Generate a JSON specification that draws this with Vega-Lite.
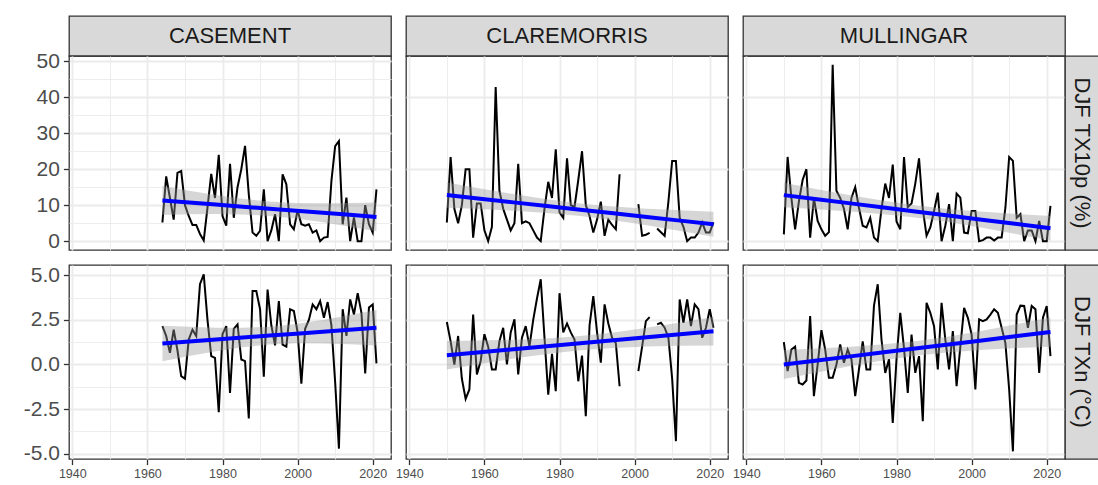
{
"$schema": "https://vega.github.io/schema/vega-lite/v6.json",
"background": "white",
"padding": {"left": 22, "top": 15, "right": 0, "bottom": 0},
"autosize": {"type": "pad"},
"bounds": "flush",
"spacing": 0,
"columns": 6,
"config": {
  "font": "Liberation Sans",
  "axis": {"labelFont": "Liberation Sans", "labelColor": "#4D4D4D", "tickColor": "#333333", "tickWidth": 1.3, "tickSize": 5.6, "gridColor": "#EBEBEB", "domain": false, "labelPadding": 4, "labelFlush": false, "labelOverlap": false, "labelBound": false, "title": null}
},
"datasets": {
"cas10": [{"year":1964,"value":5.2},{"year":1965,"value":18},{"year":1966,"value":12},{"year":1967,"value":6},{"year":1968,"value":19},{"year":1969,"value":19.5},{"year":1970,"value":10},{"year":1971,"value":7},{"year":1972,"value":4.5},{"year":1973,"value":4.5},{"year":1974,"value":2},{"year":1975,"value":0.2},{"year":1976,"value":9.3},{"year":1977,"value":18.7},{"year":1978,"value":12},{"year":1979,"value":24},{"year":1980,"value":7},{"year":1981,"value":4.3},{"year":1982,"value":21.5},{"year":1983,"value":6.5},{"year":1984,"value":15},{"year":1985,"value":20},{"year":1986,"value":26.5},{"year":1987,"value":13},{"year":1988,"value":2.4},{"year":1989,"value":1.5},{"year":1990,"value":2.9},{"year":1991,"value":14.4},{"year":1992,"value":0},{"year":1993,"value":3},{"year":1994,"value":7.5},{"year":1995,"value":0},{"year":1996,"value":18.6},{"year":1997,"value":15.8},{"year":1998,"value":4.7},{"year":1999,"value":3.3},{"year":2000,"value":8.6},{"year":2001,"value":4.7},{"year":2002,"value":4.3},{"year":2003,"value":4.7},{"year":2004,"value":2.4},{"year":2005,"value":3},{"year":2006,"value":0},{"year":2007,"value":1},{"year":2008,"value":1.2},{"year":2009,"value":16.7},{"year":2010,"value":26.4},{"year":2011,"value":27.8},{"year":2012,"value":4.7},{"year":2013,"value":12.1},{"year":2014,"value":0},{"year":2015,"value":6.6},{"year":2016,"value":0},{"year":2017,"value":0},{"year":2018,"value":10},{"year":2019,"value":4.7},{"year":2020,"value":2.4},{"year":2021,"value":14.4}],
"cla10": [{"year":1950,"value":5.2},{"year":1951,"value":23.4},{"year":1952,"value":9},{"year":1953,"value":5},{"year":1954,"value":10},{"year":1955,"value":20},{"year":1956,"value":20},{"year":1957,"value":1},{"year":1958,"value":10.5},{"year":1959,"value":10.5},{"year":1960,"value":3},{"year":1961,"value":0},{"year":1962,"value":4},{"year":1963,"value":42.8},{"year":1964,"value":14},{"year":1965,"value":9},{"year":1966,"value":6},{"year":1967,"value":3},{"year":1968,"value":5},{"year":1969,"value":21.5},{"year":1970,"value":5},{"year":1971,"value":5.5},{"year":1972,"value":5},{"year":1973,"value":3},{"year":1974,"value":1},{"year":1975,"value":0},{"year":1976,"value":9},{"year":1977,"value":16.5},{"year":1978,"value":12},{"year":1979,"value":25.5},{"year":1980,"value":8},{"year":1981,"value":6.5},{"year":1982,"value":23},{"year":1983,"value":10},{"year":1984,"value":9.5},{"year":1985,"value":17},{"year":1986,"value":25},{"year":1987,"value":10},{"year":1988,"value":7},{"year":1989,"value":2.4},{"year":1990,"value":6},{"year":1991,"value":11},{"year":1992,"value":1.5},{"year":1993,"value":6},{"year":1994,"value":4.5},{"year":1995,"value":3.3},{"year":1996,"value":18.6},{"year":1997,"value":null},{"year":1998,"value":null},{"year":1999,"value":null},{"year":2000,"value":null},{"year":2001,"value":10.3},{"year":2002,"value":1.5},{"year":2003,"value":1.8},{"year":2004,"value":2.3},{"year":2005,"value":null},{"year":2006,"value":3.5},{"year":2007,"value":2.5},{"year":2008,"value":1.5},{"year":2009,"value":11},{"year":2010,"value":22.3},{"year":2011,"value":22.3},{"year":2012,"value":6.5},{"year":2013,"value":4},{"year":2014,"value":0},{"year":2015,"value":1},{"year":2016,"value":1},{"year":2017,"value":2.4},{"year":2018,"value":5.2},{"year":2019,"value":2.4},{"year":2020,"value":2.4},{"year":2021,"value":5.2}],
"mul10": [{"year":1950,"value":1.9},{"year":1951,"value":23.4},{"year":1952,"value":12},{"year":1953,"value":3.3},{"year":1954,"value":11},{"year":1955,"value":17},{"year":1956,"value":20},{"year":1957,"value":1},{"year":1958,"value":12},{"year":1959,"value":5.6},{"year":1960,"value":3.3},{"year":1961,"value":1.5},{"year":1962,"value":2.5},{"year":1963,"value":49},{"year":1964,"value":14},{"year":1965,"value":12},{"year":1966,"value":9},{"year":1967,"value":3.3},{"year":1968,"value":12},{"year":1969,"value":15},{"year":1970,"value":9.3},{"year":1971,"value":4.3},{"year":1972,"value":3.8},{"year":1973,"value":6.5},{"year":1974,"value":1},{"year":1975,"value":0},{"year":1976,"value":9},{"year":1977,"value":16},{"year":1978,"value":12},{"year":1979,"value":21.3},{"year":1980,"value":5.5},{"year":1981,"value":3.3},{"year":1982,"value":23.4},{"year":1983,"value":9.5},{"year":1984,"value":10.5},{"year":1985,"value":16},{"year":1986,"value":23},{"year":1987,"value":9},{"year":1988,"value":1.5},{"year":1989,"value":3.8},{"year":1990,"value":8.4},{"year":1991,"value":13.5},{"year":1992,"value":0},{"year":1993,"value":4.3},{"year":1994,"value":10.3},{"year":1995,"value":0},{"year":1996,"value":13.2},{"year":1997,"value":12.1},{"year":1998,"value":2.4},{"year":1999,"value":2.2},{"year":2000,"value":8.4},{"year":2001,"value":8.4},{"year":2002,"value":0},{"year":2003,"value":0.3},{"year":2004,"value":1},{"year":2005,"value":1},{"year":2006,"value":0.2},{"year":2007,"value":1},{"year":2008,"value":1},{"year":2009,"value":9.3},{"year":2010,"value":23.4},{"year":2011,"value":22.3},{"year":2012,"value":6.5},{"year":2013,"value":7.5},{"year":2014,"value":0},{"year":2015,"value":3},{"year":2016,"value":3},{"year":2017,"value":0},{"year":2018,"value":5.6},{"year":2019,"value":0},{"year":2020,"value":0},{"year":2021,"value":9.8}],
"casn": [{"year":1964,"value":2.15},{"year":1965,"value":1.6},{"year":1966,"value":0.65},{"year":1967,"value":1.95},{"year":1968,"value":0.8},{"year":1969,"value":-0.65},{"year":1970,"value":-0.8},{"year":1971,"value":1.4},{"year":1972,"value":1.95},{"year":1973,"value":1.6},{"year":1974,"value":4.5},{"year":1975,"value":5.05},{"year":1976,"value":2.5},{"year":1977,"value":0.47},{"year":1978,"value":0.37},{"year":1979,"value":-2.68},{"year":1980,"value":1.7},{"year":1981,"value":2.15},{"year":1982,"value":-1.6},{"year":1983,"value":2.0},{"year":1984,"value":2.25},{"year":1985,"value":0.28},{"year":1986,"value":0.19},{"year":1987,"value":-3.03},{"year":1988,"value":4.12},{"year":1989,"value":4.12},{"year":1990,"value":3.1},{"year":1991,"value":-0.69},{"year":1992,"value":4.2},{"year":1993,"value":2.2},{"year":1994,"value":1.07},{"year":1995,"value":3.56},{"year":1996,"value":1.12},{"year":1997,"value":1.0},{"year":1998,"value":3.1},{"year":1999,"value":3.0},{"year":2000,"value":1.8},{"year":2001,"value":-1.07},{"year":2002,"value":2.0},{"year":2003,"value":2.5},{"year":2004,"value":3.37},{"year":2005,"value":3.1},{"year":2006,"value":3.56},{"year":2007,"value":2.62},{"year":2008,"value":3.5},{"year":2009,"value":2.2},{"year":2010,"value":-1.0},{"year":2011,"value":-4.72},{"year":2012,"value":3.1},{"year":2013,"value":1.6},{"year":2014,"value":3.65},{"year":2015,"value":2.8},{"year":2016,"value":4.0},{"year":2017,"value":2.9},{"year":2018,"value":-0.5},{"year":2019,"value":3.2},{"year":2020,"value":3.37},{"year":2021,"value":0.06}],
"clan": [{"year":1950,"value":2.38},{"year":1951,"value":1.3},{"year":1952,"value":0.0},{"year":1953,"value":1.6},{"year":1954,"value":-0.8},{"year":1955,"value":-1.93},{"year":1956,"value":-1.4},{"year":1957,"value":2.8},{"year":1958,"value":-0.56},{"year":1959,"value":0.2},{"year":1960,"value":1.7},{"year":1961,"value":1.0},{"year":1962,"value":-0.28},{"year":1963,"value":-0.28},{"year":1964,"value":1.3},{"year":1965,"value":2.06},{"year":1966,"value":0.0},{"year":1967,"value":1.8},{"year":1968,"value":2.53},{"year":1969,"value":-0.56},{"year":1970,"value":1.5},{"year":1971,"value":2.15},{"year":1972,"value":1.0},{"year":1973,"value":2.5},{"year":1974,"value":3.7},{"year":1975,"value":4.78},{"year":1976,"value":1.5},{"year":1977,"value":-1.69},{"year":1978,"value":0.6},{"year":1979,"value":-1.5},{"year":1980,"value":4.0},{"year":1981,"value":1.8},{"year":1982,"value":2.3},{"year":1983,"value":1.8},{"year":1984,"value":1.4},{"year":1985,"value":-0.94},{"year":1986,"value":0.5},{"year":1987,"value":-2.9},{"year":1988,"value":2.2},{"year":1989,"value":3.84},{"year":1990,"value":1.8},{"year":1991,"value":0.1},{"year":1992,"value":3.37},{"year":1993,"value":2.3},{"year":1994,"value":1.5},{"year":1995,"value":1.2},{"year":1996,"value":-1.22},{"year":1997,"value":null},{"year":1998,"value":null},{"year":1999,"value":null},{"year":2000,"value":null},{"year":2001,"value":-0.37},{"year":2002,"value":1.0},{"year":2003,"value":2.43},{"year":2004,"value":2.66},{"year":2005,"value":null},{"year":2006,"value":2.25},{"year":2007,"value":2.34},{"year":2008,"value":2.06},{"year":2009,"value":1.5},{"year":2010,"value":-0.8},{"year":2011,"value":-4.3},{"year":2012,"value":3.65},{"year":2013,"value":2.34},{"year":2014,"value":3.65},{"year":2015,"value":2.15},{"year":2016,"value":3.37},{"year":2017,"value":3.1},{"year":2018,"value":1.5},{"year":2019,"value":2.06},{"year":2020,"value":3.1},{"year":2021,"value":2.06}],
"muln": [{"year":1950,"value":1.25},{"year":1951,"value":-0.37},{"year":1952,"value":0.84},{"year":1953,"value":1.0},{"year":1954,"value":-1.03},{"year":1955,"value":-1.12},{"year":1956,"value":-0.9},{"year":1957,"value":2.72},{"year":1958,"value":-1.78},{"year":1959,"value":0.0},{"year":1960,"value":1.93},{"year":1961,"value":0.84},{"year":1962,"value":-0.75},{"year":1963,"value":-0.75},{"year":1964,"value":0.0},{"year":1965,"value":1.12},{"year":1966,"value":0.1},{"year":1967,"value":0.84},{"year":1968,"value":0.3},{"year":1969,"value":-1.78},{"year":1970,"value":-0.28},{"year":1971,"value":1.3},{"year":1972,"value":-0.28},{"year":1973,"value":-0.28},{"year":1974,"value":3.3},{"year":1975,"value":4.5},{"year":1976,"value":1.4},{"year":1977,"value":-0.47},{"year":1978,"value":0.3},{"year":1979,"value":-3.28},{"year":1980,"value":0.3},{"year":1981,"value":2.9},{"year":1982,"value":0.9},{"year":1983,"value":-1.6},{"year":1984,"value":1.68},{"year":1985,"value":-0.47},{"year":1986,"value":0.47},{"year":1987,"value":-3.18},{"year":1988,"value":3.46},{"year":1989,"value":2.9},{"year":1990,"value":2.15},{"year":1991,"value":-0.28},{"year":1992,"value":3.46},{"year":1993,"value":1.4},{"year":1994,"value":-0.28},{"year":1995,"value":1.87},{"year":1996,"value":-1.22},{"year":1997,"value":1.0},{"year":1998,"value":3.18},{"year":1999,"value":2.62},{"year":2000,"value":1.68},{"year":2001,"value":-1.4},{"year":2002,"value":2.53},{"year":2003,"value":2.43},{"year":2004,"value":2.53},{"year":2005,"value":2.8},{"year":2006,"value":3.1},{"year":2007,"value":2.9},{"year":2008,"value":2.06},{"year":2009,"value":1.2},{"year":2010,"value":-1.4},{"year":2011,"value":-4.87},{"year":2012,"value":2.8},{"year":2013,"value":3.3},{"year":2014,"value":3.28},{"year":2015,"value":2.06},{"year":2016,"value":3.28},{"year":2017,"value":3.1},{"year":2018,"value":-0.47},{"year":2019,"value":2.62},{"year":2020,"value":3.28},{"year":2021,"value":0.47}],
"fcas10": [{"year":1964,"fit":11.3,"lo":7.3,"hi":15.3},{"year":1971.125,"fit":10.73,"lo":7.45,"hi":14.01},{"year":1978.25,"fit":10.16,"lo":7.52,"hi":12.8},{"year":1985.375,"fit":9.59,"lo":7.41,"hi":11.77},{"year":1992.5,"fit":9.03,"lo":7.03,"hi":11.03},{"year":1999.625,"fit":8.46,"lo":6.28,"hi":10.64},{"year":2006.75,"fit":7.89,"lo":5.25,"hi":10.53},{"year":2013.875,"fit":7.32,"lo":4.04,"hi":10.6},{"year":2021,"fit":6.75,"lo":2.75,"hi":10.75}],
"fcla10": [{"year":1950,"fit":12.8,"lo":9.3,"hi":16.3},{"year":1958.875,"fit":11.79,"lo":8.92,"hi":14.66},{"year":1967.75,"fit":10.78,"lo":8.47,"hi":13.09},{"year":1976.625,"fit":9.76,"lo":7.85,"hi":11.67},{"year":1985.5,"fit":8.75,"lo":7.0,"hi":10.5},{"year":1994.375,"fit":7.74,"lo":5.83,"hi":9.65},{"year":2003.25,"fit":6.73,"lo":4.42,"hi":9.04},{"year":2012.125,"fit":5.71,"lo":2.84,"hi":8.58},{"year":2021,"fit":4.7,"lo":1.2,"hi":8.2}],
"fmul10": [{"year":1950,"fit":12.8,"lo":9.4,"hi":16.2},{"year":1958.875,"fit":11.65,"lo":8.86,"hi":14.44},{"year":1967.75,"fit":10.5,"lo":8.25,"hi":12.75},{"year":1976.625,"fit":9.35,"lo":7.5,"hi":11.2},{"year":1985.5,"fit":8.2,"lo":6.5,"hi":9.9},{"year":1994.375,"fit":7.05,"lo":5.2,"hi":8.9},{"year":2003.25,"fit":5.9,"lo":3.65,"hi":8.15},{"year":2012.125,"fit":4.75,"lo":1.96,"hi":7.54},{"year":2021,"fit":3.6,"lo":0.2,"hi":7.0}],
"fcasn": [{"year":1964,"fit":1.18,"lo":0.18,"hi":2.18},{"year":1971.125,"fit":1.29,"lo":0.47,"hi":2.11},{"year":1978.25,"fit":1.4,"lo":0.74,"hi":2.06},{"year":1985.375,"fit":1.51,"lo":0.965,"hi":2.055},{"year":1992.5,"fit":1.62,"lo":1.12,"hi":2.12},{"year":1999.625,"fit":1.73,"lo":1.185,"hi":2.275},{"year":2006.75,"fit":1.84,"lo":1.18,"hi":2.5},{"year":2013.875,"fit":1.95,"lo":1.13,"hi":2.77},{"year":2021,"fit":2.06,"lo":1.06,"hi":3.06}],
"fclan": [{"year":1950,"fit":0.52,"lo":-0.28,"hi":1.32},{"year":1958.875,"fit":0.689,"lo":0.033,"hi":1.345},{"year":1967.75,"fit":0.858,"lo":0.33,"hi":1.386},{"year":1976.625,"fit":1.026,"lo":0.59,"hi":1.462},{"year":1985.5,"fit":1.195,"lo":0.795,"hi":1.595},{"year":1994.375,"fit":1.364,"lo":0.928,"hi":1.8},{"year":2003.25,"fit":1.533,"lo":1.005,"hi":2.061},{"year":2012.125,"fit":1.701,"lo":1.045,"hi":2.357},{"year":2021,"fit":1.87,"lo":1.07,"hi":2.67}],
"fmuln": [{"year":1950,"fit":0.0,"lo":-0.82,"hi":0.82},{"year":1958.875,"fit":0.2275,"lo":-0.445,"hi":0.9},{"year":1967.75,"fit":0.455,"lo":-0.087,"hi":0.997},{"year":1976.625,"fit":0.6825,"lo":0.236,"hi":1.13},{"year":1985.5,"fit":0.91,"lo":0.5,"hi":1.32},{"year":1994.375,"fit":1.1375,"lo":0.69,"hi":1.585},{"year":2003.25,"fit":1.365,"lo":0.823,"hi":1.907},{"year":2012.125,"fit":1.5925,"lo":0.92,"hi":2.265},{"year":2021,"fit":1.82,"lo":1.0,"hi":2.64}]
},
"concat": [
{"width":322,"height":40,"view":{"fill":"#D9D9D9","stroke":"#333333","strokeWidth":1.3},"data":{"values":[{"label":"CASEMENT"}]},"mark":{"type":"text","fontSize":22,"color":"#1A1A1A","font":"Liberation Sans"},"encoding":{"text":{"field":"label"}}},
{"width":15,"height":40,"view":{"stroke":null},"data":{"values":[{}]},"mark":{"type":"point","opacity":0},"encoding":{}},
{"width":322,"height":40,"view":{"fill":"#D9D9D9","stroke":"#333333","strokeWidth":1.3},"data":{"values":[{"label":"CLAREMORRIS"}]},"mark":{"type":"text","fontSize":22,"color":"#1A1A1A","font":"Liberation Sans"},"encoding":{"text":{"field":"label"}}},
{"width":15,"height":40,"view":{"stroke":null},"data":{"values":[{}]},"mark":{"type":"point","opacity":0},"encoding":{}},
{"width":322,"height":40,"view":{"fill":"#D9D9D9","stroke":"#333333","strokeWidth":1.3},"data":{"values":[{"label":"MULLINGAR"}]},"mark":{"type":"text","fontSize":22,"color":"#1A1A1A","font":"Liberation Sans"},"encoding":{"text":{"field":"label"}}},
{"width":34,"height":40,"view":{"stroke":null},"data":{"values":[{}]},"mark":{"type":"point","opacity":0},"encoding":{}},

{"width":322,"height":194,"view":{"stroke":"#333333","strokeWidth":1.3},
 "resolve":{"axis":{"y":"independent"}},
 "encoding":{"x":{"field":"year","type":"quantitative","title":null,"scale":{"domain":[1939.12,2024.87],"nice":false,"zero":false},"axis":{"values":[1940,1950,1960,1970,1980,1990,2000,2010,2020],"labels":false,"ticks":false,"grid":true,"gridWidth":{"condition":{"test":"datum.value % 20 === 0","value":1.8},"value":0.9}}}},
 "layer":[
  {"data":{"name":"cas10"},"mark":{"type":"line","color":"#000000","strokeWidth":2,"invalid":"break-paths-filter-domains"},"encoding":{"y":{"field":"value","type":"quantitative","title":null,"scale":{"domain":[-2.45,51.45],"nice":false,"zero":false},"axis":{"orient":"left","values":[0,5,10,15,20,25,30,35,40,45,50],"labels":false,"ticks":false,"grid":true,"gridWidth":{"condition":{"test":"datum.value % 10 === 0","value":1.8},"value":0.9}}}}},
  {"data":{"name":"fcas10"},"mark":{"type":"area","color":"#999999","opacity":0.4},"encoding":{"y":{"field":"lo","type":"quantitative","title":null,"axis":{"orient":"left","values":[0,10,20,30,40,50],"format":"d","labelFontSize":21,"grid":false,"ticks":true}},"y2":{"field":"hi"}}},
  {"data":{"name":"fcas10"},"mark":{"type":"line","color":"#0000FF","strokeWidth":4},"encoding":{"y":{"field":"fit","type":"quantitative","title":null,"axis":null}}}
 ]},
{"width":15,"height":194,"view":{"stroke":null},"data":{"values":[{}]},"mark":{"type":"point","opacity":0},"encoding":{}},
{"width":322,"height":194,"view":{"stroke":"#333333","strokeWidth":1.3},
 "encoding":{"x":{"field":"year","type":"quantitative","title":null,"scale":{"domain":[1939.12,2024.87],"nice":false,"zero":false},"axis":{"values":[1940,1950,1960,1970,1980,1990,2000,2010,2020],"labels":false,"ticks":false,"grid":true,"gridWidth":{"condition":{"test":"datum.value % 20 === 0","value":1.8},"value":0.9}}}},
 "layer":[
  {"data":{"name":"cla10"},"mark":{"type":"line","color":"#000000","strokeWidth":2,"invalid":"break-paths-filter-domains"},"encoding":{"y":{"field":"value","type":"quantitative","title":null,"scale":{"domain":[-2.45,51.45],"nice":false,"zero":false},"axis":{"values":[0,5,10,15,20,25,30,35,40,45,50],"labels":false,"ticks":false,"grid":true,"gridWidth":{"condition":{"test":"datum.value % 10 === 0","value":1.8},"value":0.9}}}}},
  {"data":{"name":"fcla10"},"mark":{"type":"area","color":"#999999","opacity":0.4},"encoding":{"y":{"field":"lo","type":"quantitative","title":null},"y2":{"field":"hi"}}},
  {"data":{"name":"fcla10"},"mark":{"type":"line","color":"#0000FF","strokeWidth":4},"encoding":{"y":{"field":"fit","type":"quantitative","title":null}}}
 ]},
{"width":15,"height":194,"view":{"stroke":null},"data":{"values":[{}]},"mark":{"type":"point","opacity":0},"encoding":{}},
{"width":322,"height":194,"view":{"stroke":"#333333","strokeWidth":1.3},
 "encoding":{"x":{"field":"year","type":"quantitative","title":null,"scale":{"domain":[1939.12,2024.87],"nice":false,"zero":false},"axis":{"values":[1940,1950,1960,1970,1980,1990,2000,2010,2020],"labels":false,"ticks":false,"grid":true,"gridWidth":{"condition":{"test":"datum.value % 20 === 0","value":1.8},"value":0.9}}}},
 "layer":[
  {"data":{"name":"mul10"},"mark":{"type":"line","color":"#000000","strokeWidth":2,"invalid":"break-paths-filter-domains"},"encoding":{"y":{"field":"value","type":"quantitative","title":null,"scale":{"domain":[-2.45,51.45],"nice":false,"zero":false},"axis":{"values":[0,5,10,15,20,25,30,35,40,45,50],"labels":false,"ticks":false,"grid":true,"gridWidth":{"condition":{"test":"datum.value % 10 === 0","value":1.8},"value":0.9}}}}},
  {"data":{"name":"fmul10"},"mark":{"type":"area","color":"#999999","opacity":0.4},"encoding":{"y":{"field":"lo","type":"quantitative","title":null},"y2":{"field":"hi"}}},
  {"data":{"name":"fmul10"},"mark":{"type":"line","color":"#0000FF","strokeWidth":4},"encoding":{"y":{"field":"fit","type":"quantitative","title":null}}}
 ]},
{"width":34,"height":194,"view":{"fill":"#D9D9D9","stroke":"#333333","strokeWidth":1.3},"data":{"values":[{"label":"DJF TX10p (%)"}]},"mark":{"type":"text","fontSize":22,"angle":90,"color":"#1A1A1A","font":"Liberation Sans"},"encoding":{"text":{"field":"label"}}},

{"width":322,"height":15,"view":{"stroke":null},"data":{"values":[{}]},"mark":{"type":"point","opacity":0},"encoding":{}},
{"width":15,"height":15,"view":{"stroke":null},"data":{"values":[{}]},"mark":{"type":"point","opacity":0},"encoding":{}},
{"width":322,"height":15,"view":{"stroke":null},"data":{"values":[{}]},"mark":{"type":"point","opacity":0},"encoding":{}},
{"width":15,"height":15,"view":{"stroke":null},"data":{"values":[{}]},"mark":{"type":"point","opacity":0},"encoding":{}},
{"width":322,"height":15,"view":{"stroke":null},"data":{"values":[{}]},"mark":{"type":"point","opacity":0},"encoding":{}},
{"width":34,"height":15,"view":{"stroke":null},"data":{"values":[{}]},"mark":{"type":"point","opacity":0},"encoding":{}},

{"width":322,"height":194,"view":{"stroke":"#333333","strokeWidth":1.3},
 "resolve":{"axis":{"y":"independent"}},
 "encoding":{"x":{"field":"year","type":"quantitative","title":null,"scale":{"domain":[1939.12,2024.87],"nice":false,"zero":false},"axis":{"values":[1940,1950,1960,1970,1980,1990,2000,2010,2020],"format":"d","labelExpr":"datum.value % 20 === 0 ? datum.label : ''","labelOverlap":false,"labelFontSize":12.5,"labelPadding":3,"tickOpacity":{"condition":{"test":"datum.value % 20 === 0","value":1},"value":0},"grid":true,"gridWidth":{"condition":{"test":"datum.value % 20 === 0","value":1.8},"value":0.9}}}},
 "layer":[
  {"data":{"name":"casn"},"mark":{"type":"line","color":"#000000","strokeWidth":2,"invalid":"break-paths-filter-domains"},"encoding":{"y":{"field":"value","type":"quantitative","title":null,"scale":{"domain":[-5.3,5.58],"nice":false,"zero":false},"axis":{"orient":"left","values":[-5,-3.75,-2.5,-1.25,0,1.25,2.5,3.75,5],"labels":false,"ticks":false,"grid":true,"gridWidth":{"condition":{"test":"datum.value % 2.5 === 0","value":1.8},"value":0.9}}}}},
  {"data":{"name":"fcasn"},"mark":{"type":"area","color":"#999999","opacity":0.4},"encoding":{"y":{"field":"lo","type":"quantitative","title":null,"axis":{"orient":"left","values":[-5,-2.5,0,2.5,5],"format":".1f","labelExpr":"replace(datum.label, '\u2212', '-')","labelFontSize":21,"grid":false,"ticks":true}},"y2":{"field":"hi"}}},
  {"data":{"name":"fcasn"},"mark":{"type":"line","color":"#0000FF","strokeWidth":4},"encoding":{"y":{"field":"fit","type":"quantitative","title":null,"axis":null}}}
 ]},
{"width":15,"height":194,"view":{"stroke":null},"data":{"values":[{}]},"mark":{"type":"point","opacity":0},"encoding":{}},
{"width":322,"height":194,"view":{"stroke":"#333333","strokeWidth":1.3},
 "encoding":{"x":{"field":"year","type":"quantitative","title":null,"scale":{"domain":[1939.12,2024.87],"nice":false,"zero":false},"axis":{"values":[1940,1950,1960,1970,1980,1990,2000,2010,2020],"format":"d","labelExpr":"datum.value % 20 === 0 ? datum.label : ''","labelOverlap":false,"labelFontSize":12.5,"labelPadding":3,"tickOpacity":{"condition":{"test":"datum.value % 20 === 0","value":1},"value":0},"grid":true,"gridWidth":{"condition":{"test":"datum.value % 20 === 0","value":1.8},"value":0.9}}}},
 "layer":[
  {"data":{"name":"clan"},"mark":{"type":"line","color":"#000000","strokeWidth":2,"invalid":"break-paths-filter-domains"},"encoding":{"y":{"field":"value","type":"quantitative","title":null,"scale":{"domain":[-5.3,5.58],"nice":false,"zero":false},"axis":{"values":[-5,-3.75,-2.5,-1.25,0,1.25,2.5,3.75,5],"labels":false,"ticks":false,"grid":true,"gridWidth":{"condition":{"test":"datum.value % 2.5 === 0","value":1.8},"value":0.9}}}}},
  {"data":{"name":"fclan"},"mark":{"type":"area","color":"#999999","opacity":0.4},"encoding":{"y":{"field":"lo","type":"quantitative","title":null},"y2":{"field":"hi"}}},
  {"data":{"name":"fclan"},"mark":{"type":"line","color":"#0000FF","strokeWidth":4},"encoding":{"y":{"field":"fit","type":"quantitative","title":null}}}
 ]},
{"width":15,"height":194,"view":{"stroke":null},"data":{"values":[{}]},"mark":{"type":"point","opacity":0},"encoding":{}},
{"width":322,"height":194,"view":{"stroke":"#333333","strokeWidth":1.3},
 "encoding":{"x":{"field":"year","type":"quantitative","title":null,"scale":{"domain":[1939.12,2024.87],"nice":false,"zero":false},"axis":{"values":[1940,1950,1960,1970,1980,1990,2000,2010,2020],"format":"d","labelExpr":"datum.value % 20 === 0 ? datum.label : ''","labelOverlap":false,"labelFontSize":12.5,"labelPadding":3,"tickOpacity":{"condition":{"test":"datum.value % 20 === 0","value":1},"value":0},"grid":true,"gridWidth":{"condition":{"test":"datum.value % 20 === 0","value":1.8},"value":0.9}}}},
 "layer":[
  {"data":{"name":"muln"},"mark":{"type":"line","color":"#000000","strokeWidth":2,"invalid":"break-paths-filter-domains"},"encoding":{"y":{"field":"value","type":"quantitative","title":null,"scale":{"domain":[-5.3,5.58],"nice":false,"zero":false},"axis":{"values":[-5,-3.75,-2.5,-1.25,0,1.25,2.5,3.75,5],"labels":false,"ticks":false,"grid":true,"gridWidth":{"condition":{"test":"datum.value % 2.5 === 0","value":1.8},"value":0.9}}}}},
  {"data":{"name":"fmuln"},"mark":{"type":"area","color":"#999999","opacity":0.4},"encoding":{"y":{"field":"lo","type":"quantitative","title":null},"y2":{"field":"hi"}}},
  {"data":{"name":"fmuln"},"mark":{"type":"line","color":"#0000FF","strokeWidth":4},"encoding":{"y":{"field":"fit","type":"quantitative","title":null}}}
 ]},
{"width":34,"height":194,"view":{"fill":"#D9D9D9","stroke":"#333333","strokeWidth":1.3},"data":{"values":[{"label":"DJF TXn (°C)"}]},"mark":{"type":"text","fontSize":22,"angle":90,"color":"#1A1A1A","font":"Liberation Sans"},"encoding":{"text":{"field":"label"}}}
]
}
